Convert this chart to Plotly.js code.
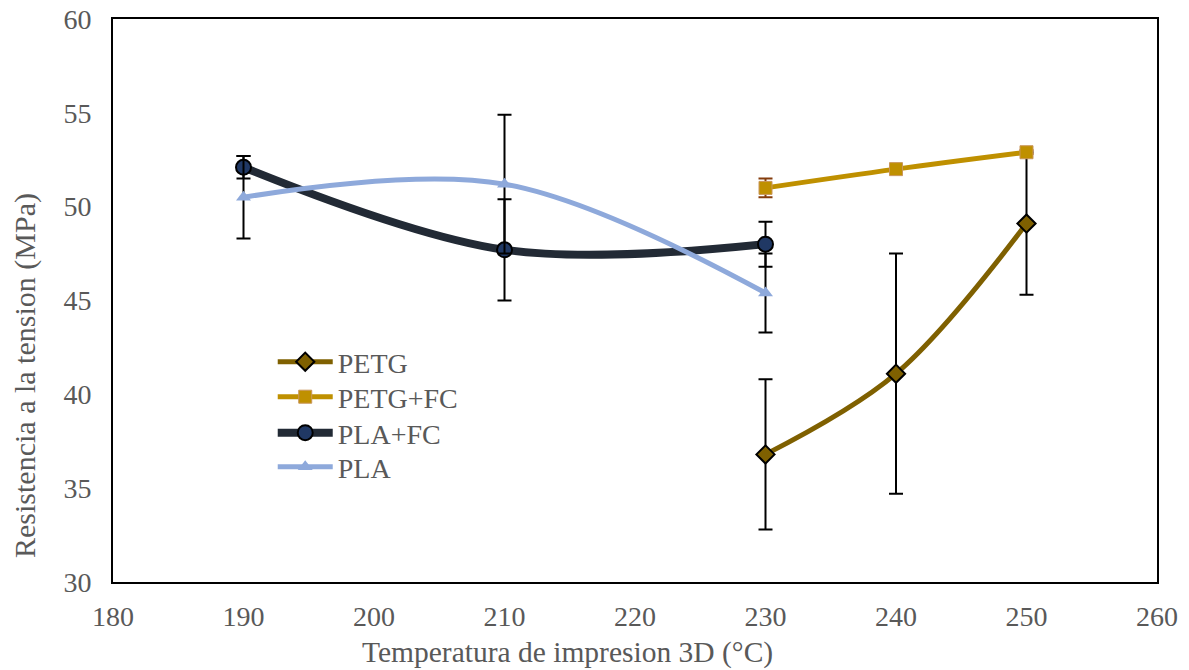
<!DOCTYPE html>
<html>
<head>
<meta charset="utf-8">
<script src="https://cdn.plot.ly/plotly-3.0.1.min.js"></script>
<style>html,body{margin:0;padding:0;background:#fff;}#chart{width:1189px;height:670px;}</style>
</head>
<body>
<div id="chart"></div>
<script>
// Data
const seriesNames = ["PETG", "PETG+FC", "PLA+FC", "PLA"];
const petgX = [230, 240, 250];
const petgY = [36.8, 41.1, 49.1];
const petgErr = [4.0, 6.4, 3.8];
const petgFcX = [230, 240, 250];
const petgFcY = [51.0, 52.0, 52.9];
const petgFcErr = [0.5, 0.2, 0.1];
const plaFcX = [190, 210, 230];
const plaFcY = [52.1, 47.7, 48.0];
const plaFcErr = [0.6, 2.7, 1.2];
const plaX = [190, 210, 230];
const plaY = [50.5, 51.2, 45.4];
const plaErr = [2.2, 3.7, 2.1];
const xTicks = [180, 190, 200, 210, 220, 230, 240, 250, 260];
const yTicks = [30, 35, 40, 45, 50, 55, 60];
const xTitle = 'Temperatura de impresion 3D (°C)';
const yTitle = 'Resistencia a la tension (MPa)';

const font = "'Liberation Serif', 'Times New Roman', serif";

function errBar(arr, color) {
  return {type: 'data', array: arr, visible: true, color: color, thickness: 2, width: 7};
}

const traces = [
  {
    x: petgX, y: petgY, name: seriesNames[0], type: 'scatter', mode: 'lines+markers', legend: 'legend',
    line: {color: '#7F6000', width: 5, shape: 'spline', smoothing: 1},
    marker: {symbol: 'diamond', size: 14, color: '#7F6000', line: {color: '#000', width: 2}},
    error_y: errBar(petgErr, '#000')
  },
  {
    x: petgFcX, y: petgFcY, name: seriesNames[1], type: 'scatter', mode: 'lines+markers', legend: 'legend2',
    line: {color: '#BF9000', width: 5, shape: 'spline', smoothing: 1},
    marker: {symbol: 'square', size: 13, color: '#BF9000', line: {color: '#C9965A', width: 1}},
    error_y: errBar(petgFcErr, '#843C0C')
  },
  {
    x: plaFcX, y: plaFcY, name: seriesNames[2], type: 'scatter', mode: 'lines+markers', legend: 'legend3',
    line: {color: '#222A35', width: 8, shape: 'spline', smoothing: 1},
    marker: {symbol: 'circle', size: 15, color: '#203864', line: {color: '#000', width: 2}},
    error_y: errBar(plaFcErr, '#000')
  },
  {
    x: plaX, y: plaY, name: seriesNames[3], type: 'scatter', mode: 'lines+markers', legend: 'legend4',
    line: {color: '#8EA9DB', width: 5, shape: 'spline', smoothing: 1},
    marker: {symbol: 'triangle-up', size: 13, color: '#8EA9DB'},
    error_y: errBar(plaErr, '#000')
  }
];

function legendAt(yPaper) {
  return {
    x: 0.153, y: yPaper, xanchor: 'left', yanchor: 'middle',
    bgcolor: 'rgba(0,0,0,0)', font: {family: font, size: 28, color: '#595959'},
    tracegroupgap: 0, itemwidth: 55
  };
}

const layout = {
  width: 1189, height: 670,
  margin: {l: 113, r: 32, t: 19, b: 88},
  paper_bgcolor: '#fff', plot_bgcolor: '#fff',
  font: {family: font, color: '#595959', size: 28},
  showlegend: true,
  legend: legendAt(0.3908),
  legend2: legendAt(0.3286),
  legend3: legendAt(0.2647),
  legend4: legendAt(0.2043),
  xaxis: {
    range: [180, 260], tickvals: xTicks, ticktext: xTicks.map(String),
    showgrid: false, zeroline: false, showline: true, linecolor: '#000', linewidth: 2, mirror: true,
    ticks: '', ticklen: 0, ticklabelstandoff: 8, tickfont: {family: font, size: 28, color: '#595959'}
  },
  yaxis: {
    range: [30, 60], tickvals: yTicks, ticktext: yTicks.map(String),
    showgrid: false, zeroline: false, showline: true, linecolor: '#000', linewidth: 2, mirror: true,
    ticks: '', ticklen: 0, ticklabelstandoff: 14, tickfont: {family: font, size: 28, color: '#595959'}
  },
  annotations: [
    {text: xTitle, xref: 'paper', yref: 'paper', x: 0.4349, y: -0.126, xanchor: 'center', yanchor: 'middle',
     showarrow: false, font: {family: font, size: 29.5, color: '#595959'}},
    {text: yTitle, xref: 'paper', yref: 'paper', x: -0.0843, y: 0.3677, xanchor: 'center', yanchor: 'middle',
     textangle: -90, showarrow: false, font: {family: font, size: 30, color: '#595959'}}
  ]
};

Plotly.newPlot('chart', traces, layout, {displayModeBar: false, staticPlot: true});
</script>
</body>
</html>
